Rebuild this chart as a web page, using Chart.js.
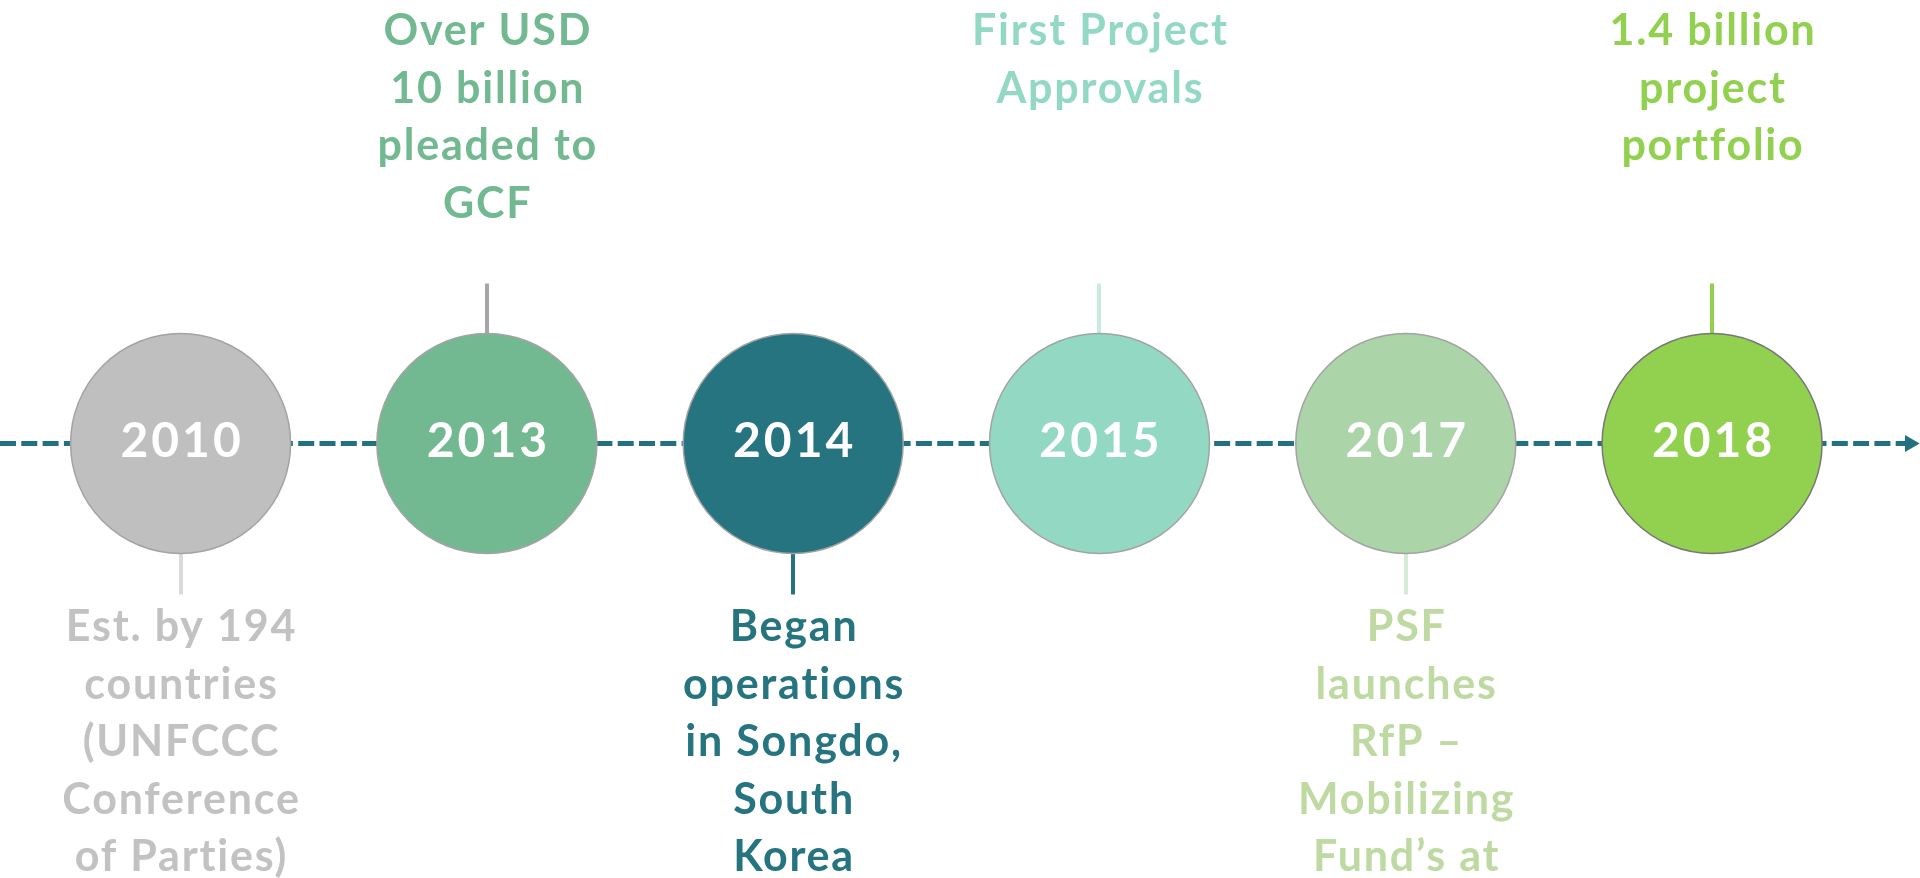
<!DOCTYPE html>
<html>
<head>
<meta charset="utf-8">
<title>GCF timeline</title>
<script src="https://cdn.jsdelivr.net/npm/chart.js@4"></script>
<style>
  html, body { margin: 0; padding: 0; background: #fff; }
  #wrap { position: relative; width: 1920px; height: 878px; }
</style>
</head>
<body>
<div id="wrap"><canvas id="timeline"></canvas></div>
<script>
// ── Data ───────────────────────────────────────────────────────────────────
const years = ['2010', '2013', '2014', '2015', '2017', '2018'];
const notes = [
  ['Est. by 194', 'countries', '(UNFCCC', 'Conference', 'of Parties)'],
  ['Over USD', '10 billion', 'pleaded to', 'GCF'],
  ['Began', 'operations', 'in Songdo,', 'South', 'Korea'],
  ['First Project', 'Approvals'],
  ['PSF', 'launches', 'RfP –', 'Mobilizing', 'Fund’s at'],
  ['1.4 billion', 'project', 'portfolio'],
];
const notePlacement = ['below', 'above', 'below', 'above', 'below', 'above'];

// ── Styles ─────────────────────────────────────────────────────────────────
const fillColors   = ['#bfbfbf', '#72b992', '#257480', '#93d8c3', '#abd4a9', '#92d050'];
const borderColors = ['#a3a3a3', '#a3a3a3', '#a3a3a3', '#a3a3a3', '#a3a3a3', '#777777'];
const textColors   = ['#c2c2c2', '#72b992', '#257480', '#93d8c3', '#bedaa2', '#92d050'];
const stemColors   = ['#dadada', '#a6a6a6', '#257480', '#c8ece1', '#d6ebd3', '#92d050'];
const LINE_COLOR   = '#237080';
const FONT_FAMILY  = 'Lato, "Open Sans", sans-serif';

const X_MIN = -0.5896, X_MAX = 5.6788;   // one step = 306 px, first event at 180 px
const Y_MIN = -434.5,  Y_MAX = 443.5;    // value 0 = the timeline

// ── Stems and notes plugin ─────────────────────────────────────────────────
const timelineDecor = {
  id: 'timelineDecor',
  beforeDatasetsDraw(chart) {
    const { ctx, scales: { x, y } } = chart;
    ctx.save();
    ctx.lineWidth = 4;
    years.forEach((_, i) => {
      const px = Math.round(x.getPixelForValue(i));
      const up = notePlacement[i] === 'above';
      ctx.strokeStyle = stemColors[i];
      ctx.beginPath();
      ctx.moveTo(px, y.getPixelForValue(up ? 160 : -151));
      ctx.lineTo(px, y.getPixelForValue(up ? 90 : -90));
      ctx.stroke();
    });
    ctx.restore();
  },
  afterDatasetsDraw(chart) {
    const { ctx, scales: { x, y } } = chart;
    ctx.save();
    ctx.textAlign = 'center';
    ctx.textBaseline = 'alphabetic';

    // year labels inside the circles
    ctx.fillStyle = '#ffffff';
    ctx.font = `bold 48px ${FONT_FAMILY}`;
    ctx.letterSpacing = '3px';
    years.forEach((yr, i) => {
      ctx.fillText(yr, x.getPixelForValue(i) + 1.5, y.getPixelForValue(-13));
    });

    // notes above / below
    ctx.font = `bold 43px ${FONT_FAMILY}`;
    ctx.letterSpacing = '1.8px';
    const step = 57.5;
    notes.forEach((lines, i) => {
      const px = x.getPixelForValue(i) + 0.9;
      const up = notePlacement[i] === 'above';
      ctx.fillStyle = textColors[i];
      lines.forEach((ln, k) => {
        const v = up ? 398.5 - k * step : -197.5 - k * step;
        ctx.fillText(ln, px, y.getPixelForValue(v));
      });
    });
    ctx.restore();
  },
};

// ── Chart ──────────────────────────────────────────────────────────────────
const ctx = document.getElementById('timeline').getContext('2d');
new Chart(ctx, {
  type: 'scatter',
  data: {
    datasets: [
      {
        label: 'milestones',
        data: years.map((_, i) => ({ x: i, y: 0 })),
        pointStyle: 'circle',
        pointRadius: 110,
        pointHoverRadius: 110,
        pointBackgroundColor: fillColors,
        pointBorderColor: borderColors,
        pointBorderWidth: 1.5,
        clip: false,
        order: 0,
      },
      {
        type: 'line',
        label: 'axis',
        data: [{ x: X_MIN, y: 0 }, { x: X_MAX - 0.033, y: 0 }],
        borderColor: LINE_COLOR,
        borderWidth: 5,
        borderDash: [16, 5.3],
        pointStyle: 'triangle',
        pointRotation: 90,
        pointRadius: [0, 9.8],
        pointBackgroundColor: LINE_COLOR,
        pointBorderWidth: 0,
        clip: false,
        order: 1,
      },
    ],
  },
  options: {
    responsive: true, maintainAspectRatio: false, animation: false,
    events: [],
    layout: { padding: 0, autoPadding: false },
    plugins: { legend: { display: false }, tooltip: { enabled: false } },
    scales: {
      x: { type: 'linear', display: false, min: X_MIN, max: X_MAX },
      y: { type: 'linear', display: false, min: Y_MIN, max: Y_MAX },
    },
  },
  plugins: [timelineDecor],
});
</script>
</body>
</html>
